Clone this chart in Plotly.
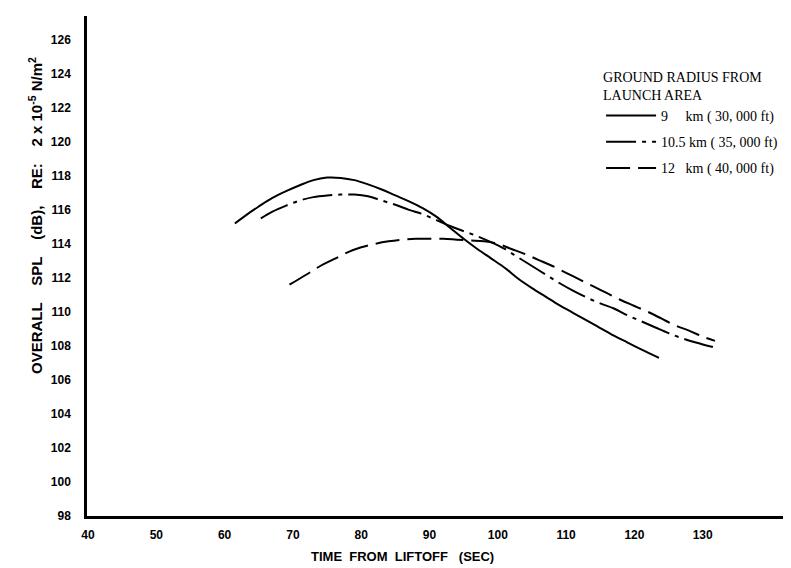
import plotly.graph_objects as go

# curves (time from liftoff in sec, overall SPL in dB)
time_9km = [61.5, 63, 65, 67, 69, 71, 73, 75, 77, 79, 81, 83, 85, 87, 89, 91, 93,
            95, 97, 99, 101, 103, 105, 107, 109, 111, 113, 115, 117, 119, 121, 123.6]
spl_9km = [115.2, 115.65, 116.2, 116.7, 117.1, 117.45, 117.75, 117.9, 117.88, 117.75,
           117.5, 117.2, 116.85, 116.5, 116.1, 115.6, 114.95, 114.3, 113.7, 113.15,
           112.6, 111.95, 111.4, 110.9, 110.4, 109.95, 109.5, 109.05, 108.6, 108.2,
           107.8, 107.3]

time_10km = [65.3, 67, 69, 71, 73, 75, 77, 79, 81, 83, 85, 87, 89, 91, 93, 95, 97,
             99, 101, 103, 105, 107, 109, 111, 113, 115, 117, 119, 121, 123, 125, 127,
             129, 131.8]
spl_10km = [115.5, 115.9, 116.25, 116.55, 116.75, 116.85, 116.9, 116.9, 116.8, 116.55,
            116.3, 116.0, 115.75, 115.4, 115.05, 114.75, 114.45, 114.1, 113.7, 113.2,
            112.7, 112.2, 111.7, 111.25, 110.85, 110.5, 110.2, 109.8, 109.45, 109.1,
            108.75, 108.45, 108.2, 107.9]

time_12km = [69.5, 72, 74, 76, 78, 80, 82, 84, 86, 88, 90, 92, 94, 96, 98, 100, 102,
             104, 106, 108, 110, 112, 114, 116, 118, 120, 122, 124, 126, 128, 130, 131.8]
spl_12km = [111.6, 112.2, 112.7, 113.1, 113.5, 113.8, 114.0, 114.15, 114.25, 114.3,
            114.3, 114.3, 114.25, 114.2, 114.15, 114.0, 113.7, 113.4, 113.05, 112.7,
            112.3, 111.9, 111.5, 111.1, 110.7, 110.35, 110.0, 109.6, 109.2, 108.9,
            108.55, 108.3]

x_ticks = [40, 50, 60, 70, 80, 90, 100, 110, 120, 130]
y_ticks = list(range(98, 127, 2))

labels = [
    "9&nbsp;&nbsp;&nbsp;&nbsp; km ( 30, 000 ft)",
    "10.5 km ( 35, 000 ft)",
    "12&nbsp;&nbsp; km ( 40, 000 ft)",
]

serif = "Liberation Serif"
sans = "Liberation Sans"
gap = "&nbsp;&nbsp;&nbsp; "

fig = go.Figure()

fig.add_trace(go.Scatter(
    x=time_9km, y=spl_9km, mode="lines", name=labels[0], legendgroup="a",
    line=dict(color="black", width=2, shape="spline"),
))
fig.add_trace(go.Scatter(
    x=time_10km, y=spl_10km, mode="lines", name=labels[1], legendgroup="b",
    line=dict(color="black", width=2, shape="spline", dash="30px,6px,4px,6px"),
))
fig.add_trace(go.Scatter(
    x=time_12km, y=spl_12km, mode="lines", name=labels[2], legendgroup="c",
    line=dict(color="black", width=2, shape="spline", dash="24px,8px"),
))

fig.add_annotation(
    text="OVERALL" + gap + "SPL" + gap + "(dB)," + gap + "RE:" + gap
         + "2 x 10<sup>-5</sup> N/m<sup>2</sup>",
    xref="paper", yref="paper", x=0, y=0.6, xshift=-52,
    xanchor="center", yanchor="middle",
    textangle=-90, showarrow=False,
    font=dict(family=sans, size=15, color="black", weight="bold"),
)
fig.add_annotation(
    text="TIME&nbsp; FROM&nbsp; LIFTOFF&nbsp;&nbsp; (SEC)",
    xref="x", yref="paper", x=86, y=0, yshift=-50,
    showarrow=False,
    font=dict(family=sans, size=13, color="black", weight="bold"),
)

fig.update_layout(
    width=791,
    height=568,
    margin=dict(l=79, r=0, t=8, b=60),
    paper_bgcolor="white",
    plot_bgcolor="white",
    showlegend=True,
    legend=dict(
        x=0.722, y=0.905, xanchor="left", yanchor="top",
        title=dict(text="GROUND RADIUS FROM<br>LAUNCH AREA",
                   font=dict(family=serif, size=14, color="black")),
        font=dict(family=serif, size=14, color="black"),
        itemwidth=50,
        tracegroupgap=5,
        bgcolor="rgba(0,0,0,0)",
    ),
    xaxis=dict(
        range=[39.85, 144.1],
        tickvals=x_ticks,
        showgrid=False, zeroline=False,
        showline=True, linecolor="black", linewidth=2.5,
        ticks="", ticklabelstandoff=6,
        tickfont=dict(family=sans, size=12, color="black", weight="bold"),
    ),
    yaxis=dict(
        range=[98, 127.4],
        tickvals=y_ticks,
        showgrid=False, zeroline=False,
        showline=True, linecolor="black", linewidth=2.5,
        ticks="", ticklabelstandoff=11,
        tickfont=dict(family=sans, size=12, color="black", weight="bold"),
    ),
)

fig.write_html("out.html")
